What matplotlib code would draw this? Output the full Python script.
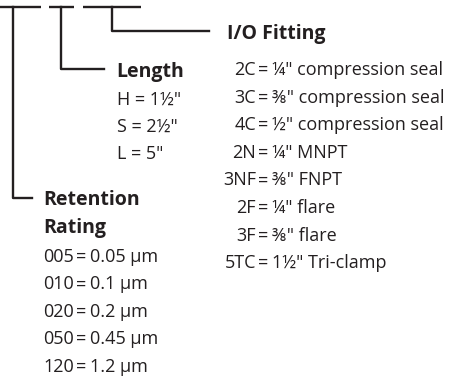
import matplotlib
matplotlib.use('Agg')
import matplotlib.pyplot as plt

# ordering code legend: retention rating / length / I/O fitting
io_codes = ['2C', '3C', '4C', '2N', '3NF', '2F', '3F', '5TC']
io_desc = ['¼" compression seal', '⅜" compression seal', '½" compression seal',
           '¼" MNPT', '⅜" FNPT', '¼" flare', '⅜" flare', '1½" Tri-clamp']
length_items = ['H = 1½"', 'S = 2½"', 'L = 5"']
ret_codes = ['005', '010', '020', '050', '120']
ret_desc = ['0.05 µm', '0.1 µm', '0.2 µm', '0.45 µm', '1.2 µm']

ink = '#231f20'
fam = ['Open Sans', 'DejaVu Sans']
hfs = 14   # headings
bfs = 13   # body
step = 27.6

fig = plt.figure(figsize=(4.52, 3.83), dpi=100)
ax = fig.add_axes([0, 0, 1, 1])
ax.set_xlim(0, 452)
ax.set_ylim(383, 0)
ax.axis('off')

lw = 1.7
# top bars
for x0, x1 in [(0, 41), (49, 74), (83, 141)]:
    ax.plot([x0, x1], [7, 7], color=ink, lw=lw, solid_capstyle='butt')
# leader lines
ax.plot([13, 13, 32], [7, 198, 198], color=ink, lw=lw)
ax.plot([61, 61, 104], [7, 69, 69], color=ink, lw=lw)
ax.plot([112, 112, 209], [7, 31, 31], color=ink, lw=lw)

# I/O fitting
ax.text(227, 39, 'I/O Fitting', fontsize=hfs, fontweight='bold', family=fam,
        color=ink, va='baseline')
for i, (c, d) in enumerate(zip(io_codes, io_desc)):
    y = 75 + step * i
    ax.text(256, y, c, fontsize=bfs, family=fam, color=ink, ha='right', va='baseline')
    ax.text(263.5, y, '=', fontsize=bfs, family=fam, color=ink, ha='center', va='baseline')
    ax.text(272, y, d, fontsize=bfs, family=fam, color=ink, ha='left', va='baseline')

# length
ax.text(116, 77, 'Length', fontsize=hfs, fontweight='bold', family=fam,
        color=ink, va='baseline')
for i, t in enumerate(length_items):
    ax.text(117, 105 + 27 * i, t, fontsize=bfs, family=fam, color=ink, va='baseline')

# retention rating
ax.text(43, 205, 'Retention', fontsize=hfs, fontweight='bold', family=fam,
        color=ink, va='baseline')
ax.text(43, 233, 'Rating', fontsize=hfs, fontweight='bold', family=fam,
        color=ink, va='baseline')
for i, (c, d) in enumerate(zip(ret_codes, ret_desc)):
    y = 262 + 27.4 * i
    ax.text(74, y, c, fontsize=bfs, family=fam, color=ink, ha='right', va='baseline')
    ax.text(81.5, y, '=', fontsize=bfs, family=fam, color=ink, ha='center', va='baseline')
    ax.text(90, y, d, fontsize=bfs, family=fam, color=ink, ha='left', va='baseline')

fig.savefig('out.png', dpi=100)
